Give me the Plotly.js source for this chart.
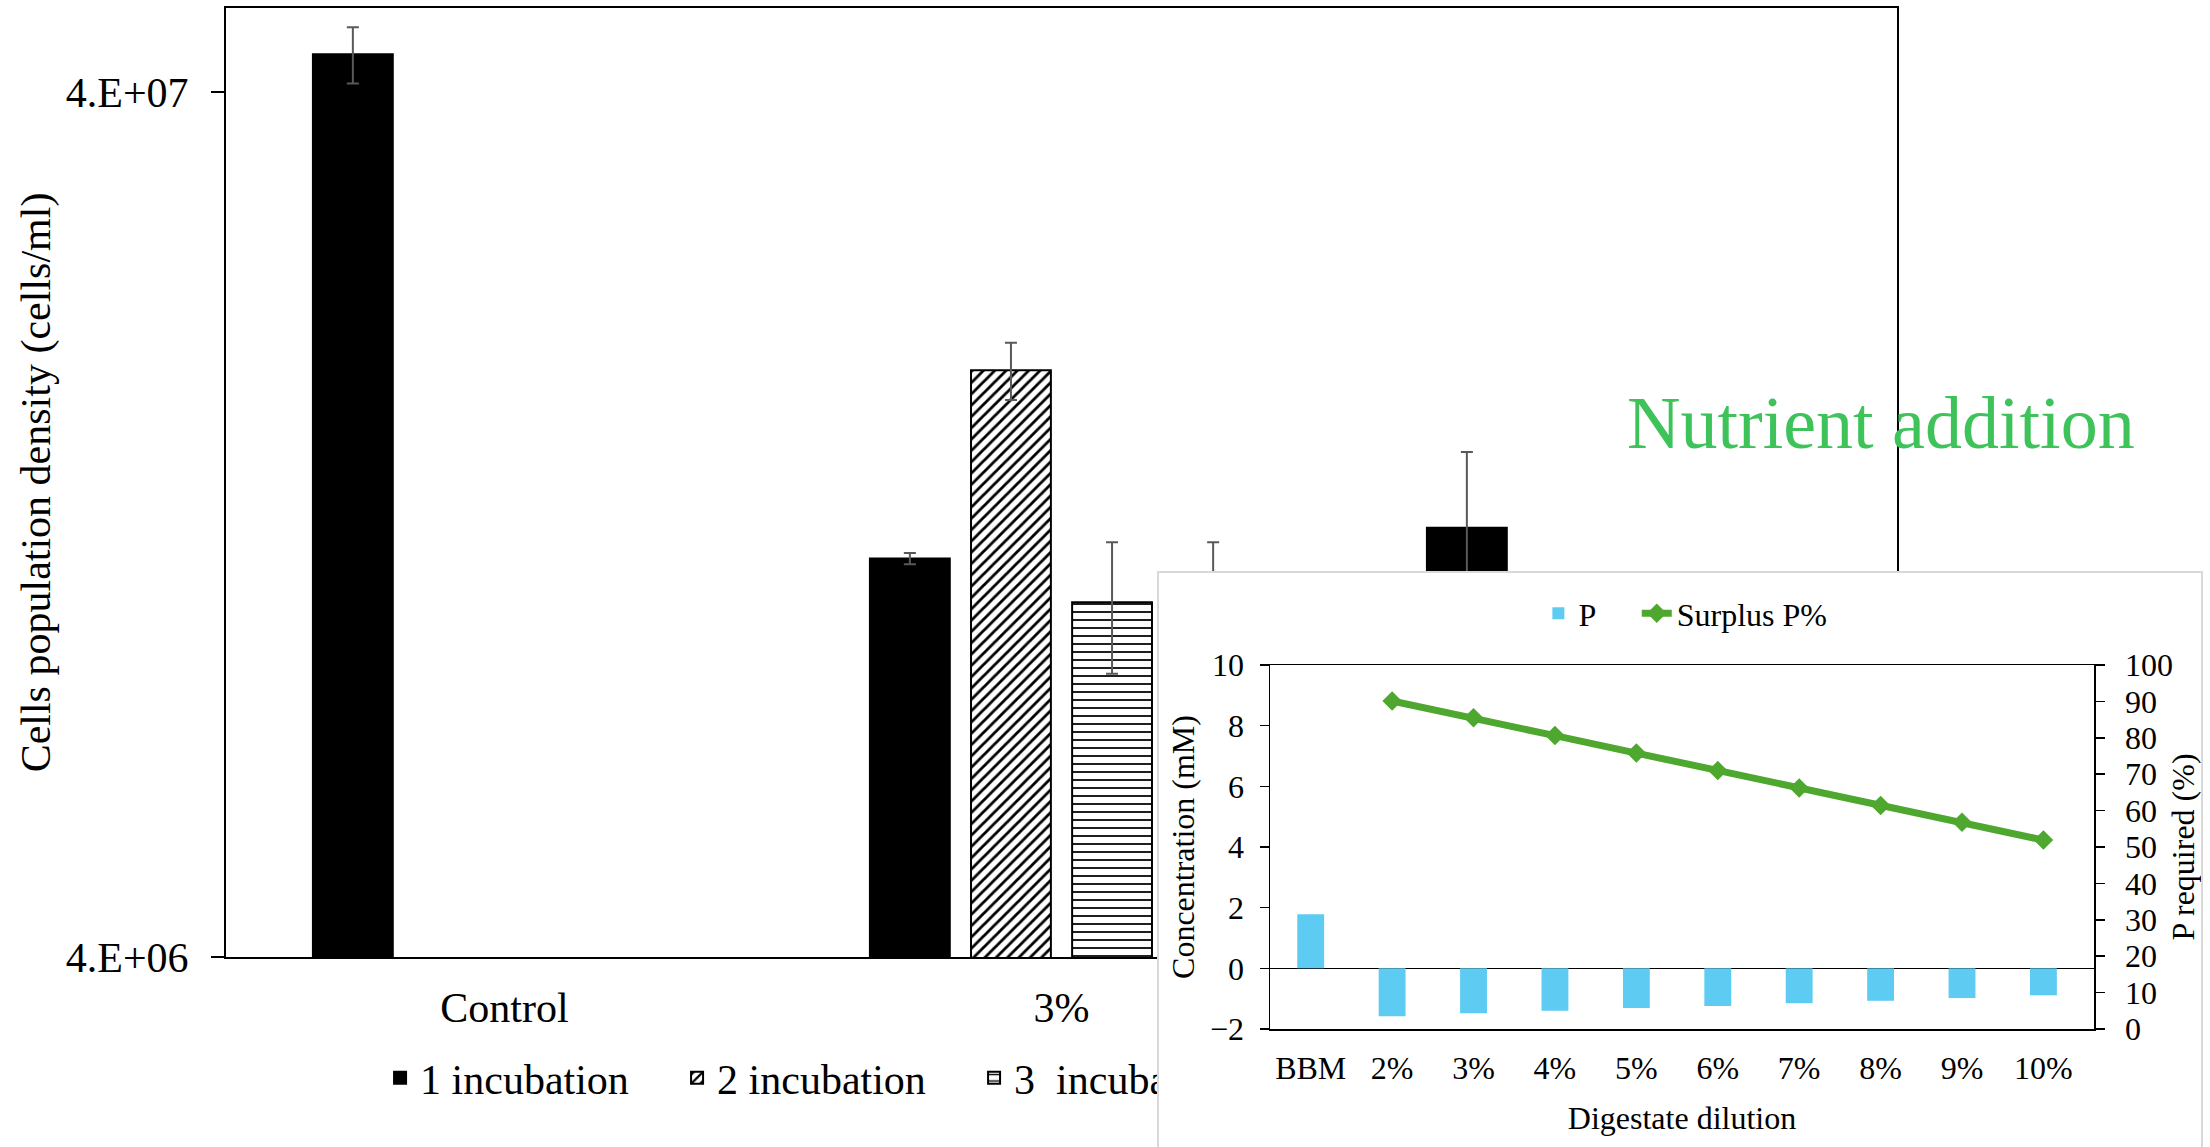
<!DOCTYPE html>
<html>
<head>
<meta charset="utf-8">
<script src="https://cdn.plot.ly/plotly-3.0.1.min.js"></script>
<style>
  html, body { margin: 0; padding: 0; width: 2210px; height: 1147px; overflow: hidden; background: #fff; }
  #main { position: absolute; left: 0; top: 0; width: 2210px; height: 1147px; }
  #insetWrap { position: absolute; left: 1157px; top: 571px; width: 1046px; height: 600px;
               border: 2px solid #d9d9d9; box-sizing: border-box; background: #fff; overflow: hidden; }
  #inset { position: absolute; left: 0; top: 0; width: 1042px; height: 576px; }
</style>
</head>
<body>
<div id="main"></div>
<div id="insetWrap"><div id="inset"></div></div>
<script>
// ---------- Main chart data ----------
const mainCategories = ['Control', '3%', '5%'];
const seriesNames = ['1 incubation', '2 incubation', '3\u00a0 incubation', '4 incubation'];
const inc1 = [4.42e7, 1.155e7, 1.254e7];
const inc1Err = [3.3e6, 1.7e5, 2.8e6];
const inc2 = [null, 1.906e7, null];
const inc2Err = [0, 1.45e6, 0];
const inc3 = [null, 1.028e7, null];
const inc3Err = [0, 1.78e6, 0];
const inc4 = [null, 1.0e7, null];
const inc4Err = [0, 2.06e6, 0];
const yTickVals = [4e6, 4e7];
const yTickText = ['4.E+06', '4.E+07'];

// ---------- Inset data ----------
const insetCategories = ['BBM', '2%', '3%', '4%', '5%', '6%', '7%', '8%', '9%', '10%'];
const pValues = [1.78, -1.58, -1.48, -1.40, -1.31, -1.24, -1.15, -1.07, -0.98, -0.89];
const surplusCategories = ['2%', '3%', '4%', '5%', '6%', '7%', '8%', '9%', '10%'];
const surplusValues = [90.1, 85.5, 80.6, 75.8, 71.0, 66.2, 61.4, 56.8, 51.9];

const FONT = 'Liberation Serif, Times New Roman, serif';
const errStyle = (arr) => ({ type: 'data', array: arr, visible: true, color: '#595959', thickness: 2, width: 6 });

const mainTraces = [
  { type: 'bar', name: seriesNames[0], x: mainCategories, y: inc1, error_y: errStyle(inc1Err),
    marker: { color: '#000000', line: { color: '#000000', width: 2 } } },
  { type: 'bar', name: seriesNames[1], x: mainCategories, y: inc2, error_y: errStyle(inc2Err),
    marker: { color: '#ffffff', line: { color: '#000000', width: 2 },
              pattern: { shape: '/', fgcolor: '#000000', bgcolor: '#ffffff', size: 8, solidity: 0.35 } } },
  { type: 'bar', name: seriesNames[2], x: mainCategories, y: inc3, error_y: errStyle(inc3Err),
    marker: { color: '#ffffff', line: { color: '#000000', width: 2 },
              pattern: { shape: '-', fgcolor: '#000000', bgcolor: '#ffffff', size: 8, solidity: 0.22 } } },
  { type: 'bar', name: seriesNames[3], x: mainCategories, y: inc4, error_y: errStyle(inc4Err),
    marker: { color: '#ffffff', line: { color: '#000000', width: 2 },
              pattern: { shape: '|', fgcolor: '#000000', bgcolor: '#ffffff', size: 8, solidity: 0.22 } } }
];

const mainLayout = {
  width: 2210, height: 1147,
  margin: { l: 226, r: 313, t: 8, b: 190 },
  paper_bgcolor: '#ffffff', plot_bgcolor: '#ffffff',
  font: { family: FONT, size: 42, color: '#000000' },
  barmode: 'group', bargap: 0.274, bargroupgap: 0.21,
  showlegend: true,
  legend: { orientation: 'h', x: 0.0922, xanchor: 'left', y: -0.1275, yanchor: 'middle',
            entrywidth: 252, entrywidthmode: 'pixels',
            font: { family: FONT, size: 42, color: '#000' }, bgcolor: 'rgba(0,0,0,0)' },
  xaxis: { type: 'category', categoryorder: 'array', categoryarray: mainCategories,
           showline: true, mirror: true, linecolor: '#000', linewidth: 2, ticks: '',
           ticklabelstandoff: 13,
           showgrid: false, tickfont: { family: FONT, size: 42, color: '#000' } },
  yaxis: { type: 'log', range: [Math.log10(4e6), Math.log10(5e7)], autorange: false,
           tickvals: yTickVals, ticktext: yTickText,
           ticks: 'outside', ticklen: 13, tickwidth: 2, tickcolor: '#000', ticklabelstandoff: 14,
           showline: true, mirror: true, linecolor: '#000', linewidth: 2, showgrid: false, zeroline: false,
           tickfont: { family: FONT, size: 42, color: '#000' },
           title: { text: 'Cells population density (cells/ml)', standoff: 2,
                    font: { family: FONT, size: 42, color: '#000' } } },
  annotations: [
    { xref: 'paper', yref: 'paper', x: 0.9905, y: 0.5627, xanchor: 'center', yanchor: 'middle',
      text: 'Nutrient addition', showarrow: false,
      font: { family: FONT, size: 74, color: '#3dc35a' } }
  ]
};

Plotly.newPlot('main', mainTraces, mainLayout, { staticPlot: true, displayModeBar: false });

// ---------- Inset ----------
const insetTraces = [
  { type: 'bar', name: 'P', x: insetCategories, y: pValues, marker: { color: '#5ecbf3' }, legend: 'legend' },
  { type: 'scatter', mode: 'lines+markers', name: 'Surplus P%', x: surplusCategories, y: surplusValues,
    yaxis: 'y2', line: { color: '#4ea72e', width: 7 }, legend: 'legend2',
    marker: { symbol: 'diamond', size: 15, color: '#4ea72e' } }
];

const zeroPos = 2 / 12;
const boundaryTicks = [0.5, 1.5, 2.5, 3.5, 4.5, 5.5, 6.5, 7.5, 8.5];

const insetLegendBase = { orientation: 'h', xanchor: 'left', y: 1.1413, yanchor: 'middle',
                          font: { family: FONT, size: 32, color: '#000' }, bgcolor: 'rgba(0,0,0,0)' };

const insetLayout = {
  width: 1042, height: 576,
  margin: { l: 111, r: 106.5, t: 92, b: 119.5 },
  paper_bgcolor: '#ffffff', plot_bgcolor: '#ffffff',
  font: { family: FONT, size: 32, color: '#000000' },
  bargap: 0.67,
  showlegend: true,
  legend: Object.assign({}, insetLegendBase, { x: 0.3257 }),
  legend2: Object.assign({}, insetLegendBase, { x: 0.4451 }),
  xaxis: { type: 'category', categoryorder: 'array', categoryarray: insetCategories,
           showline: true, mirror: true, linecolor: '#000', linewidth: 1.5,
           ticks: '', ticklabelstandoff: 10, showgrid: false, tickfont: { family: FONT, size: 32, color: '#000' },
           title: { text: 'Digestate dilution', standoff: 21, font: { family: FONT, size: 32, color: '#000' } } },
  xaxis2: { overlaying: 'x', anchor: 'free', position: zeroPos, range: [-0.5, 9.5],
            tickvals: boundaryTicks, ticks: 'outside', ticklen: 9, tickwidth: 1.5, tickcolor: '#000',
            showticklabels: false, showline: false, showgrid: false, zeroline: false },
  yaxis: { range: [-2, 10], dtick: 2, autorange: false,
           ticks: 'outside', ticklen: 9, tickwidth: 1.5, tickcolor: '#000', ticklabelstandoff: 9,
           showline: true, linecolor: '#000', linewidth: 1.5, showgrid: false,
           zeroline: true, zerolinecolor: '#000', zerolinewidth: 1.5,
           tickfont: { family: FONT, size: 32, color: '#000' },
           title: { text: 'Concentration (mM)', standoff: 6, font: { family: FONT, size: 32, color: '#000' } } },
  yaxis2: { overlaying: 'y', side: 'right', range: [0, 100], dtick: 10, autorange: false,
            ticks: 'outside', ticklen: 9, tickwidth: 1.5, tickcolor: '#000', ticklabelstandoff: 14,
            showline: true, linecolor: '#000', linewidth: 1.5, showgrid: false, zeroline: false,
            tickfont: { family: FONT, size: 32, color: '#000' },
            title: { text: 'P required (%)', standoff: 0, font: { family: FONT, size: 32, color: '#000' } } }
};

Plotly.newPlot('inset', insetTraces, insetLayout, { staticPlot: true, displayModeBar: false });
</script>
</body>
</html>
